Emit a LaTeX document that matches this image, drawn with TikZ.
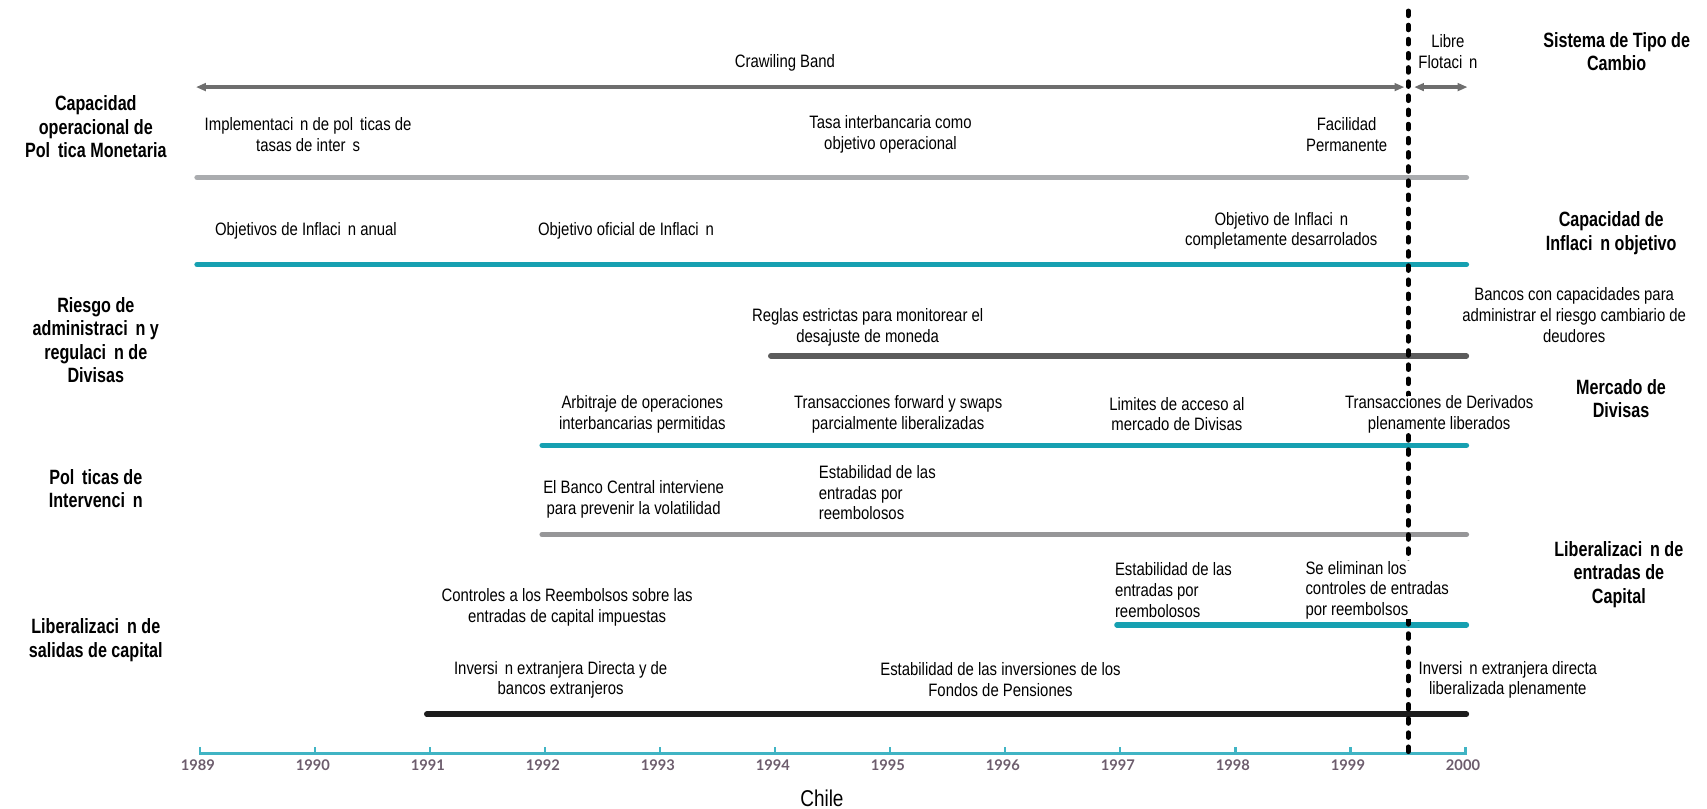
\documentclass[tikz,border=0pt]{standalone}
\usepackage{fontspec}
\setmainfont{Liberation Sans}
\newfontfamily\nar{Liberation Sans}[FakeStretch=0.83]
\newfontfamily\narb{Liberation Sans}[FakeStretch=0.78]
\newfontfamily\yrfont{Lato}
\usetikzlibrary{arrows.meta}
\definecolor{tealband}{RGB}{22,160,177}
\definecolor{axisteal}{RGB}{64,180,196}
\definecolor{lightband}{RGB}{170,172,175}
\definecolor{midband}{RGB}{150,150,152}
\definecolor{darkband}{RGB}{92,92,92}
\definecolor{blackband}{RGB}{28,28,28}
\definecolor{arrowgray}{RGB}{110,110,110}
\definecolor{yeargray}{RGB}{108,92,108}
\newcommand{\gp}{\hspace{0.38em}}
\begin{document}
\begin{tikzpicture}[x=1pt,y=-1pt,
  txt/.style={font=\nar\fontsize{16.5}{19}\selectfont, align=center, inner sep=0pt},
  txtl/.style={txt, align=left, anchor=west},
  lbl/.style={font=\narb\bfseries\fontsize{19}{21.5}\selectfont, align=center, inner sep=0pt},
  band/.style={line width=5pt, line cap=round},
  crawl/.style={line width=3pt, arrowgray, {Triangle[length=9pt,width=7pt]}-{Triangle[length=9pt,width=7pt]}},
  axisline/.style={line width=2.5pt, axisteal},
  yearlbl/.style={font=\yrfont\bfseries\fontsize{13.5}{15}\selectfont, text=yeargray, inner sep=0pt},
  dotline/.style={line width=4.3pt, line cap=round, dash pattern=on 4.5pt off 8.5pt},
  masked/.style={fill=white}]
\useasboundingbox (0,0) rectangle (1568,743);

% ---- lines and bands ----
\coordinate (cbl) at (180,80);
\coordinate (cbr) at (1290,80);
\coordinate (lfl) at (1299,80);
\coordinate (lfr) at (1348,80);
\draw[crawl] (cbl) -- (cbr);
\draw[crawl] (lfl) -- (lfr);
\draw[band, lightband] (181,163) -- (1347,163);
\draw[band, tealband] (181,243) -- (1347,243);
\draw[band, darkband] (708,327) -- (1347,327);
\draw[band, tealband] (498,409) -- (1347,409);
\draw[band, midband] (498,491) -- (1347,491);
\draw[band, tealband] (1026,574) -- (1347,574);
\draw[band, blackband] (392,656) -- (1347,656);

% axis
\draw[axisline] (183.7,686) -- (183.7,692) -- (1345.9,692) -- (1345.9,686);
\foreach \i [count=\k from 0] in {1989,...,2000} {
  \pgfmathsetmacro{\xx}{183.7+105.65*\k}
  \draw[axisline] (\xx,686.5) -- (\xx,692);
  \node[yearlbl] (y\i) at (\xx-2,703) {\i};
}

% dotted divider
\coordinate (dtop) at (1293.5,10);
\coordinate (dbot) at (1293.5,696);
\draw[dotline] (dtop) -- (dbot);

% ---- texts ----
% left labels
\node[lbl] (l1) at (88,116.5) {Capacidad\\operacional de\\Pol\gp tica Monetaria};
\node[lbl] (l2) at (88,312.5) {Riesgo de\\administraci\gp n y\\regulaci\gp n de\\Divisas};
\node[lbl] (l3) at (88,449) {Pol\gp ticas de\\Intervenci\gp n};
\node[lbl] (l4) at (88,588) {Liberalizaci\gp n de\\salidas de capital};

% right labels
\node[lbl] (r1) at (1485,47.5) {Sistema de Tipo de\\Cambio};
\node[lbl] (r2) at (1480,214) {Capacidad de\\Inflaci\gp n objetivo};
\node[lbl] (r3) at (1489,366) {Mercado de\\Divisas};
\node[lbl] (r4) at (1487,527.5) {Liberalizaci\gp n de\\entradas de\\Capital};

% exchange regime
\node[txt] (cb) at (721,58) {Crawiling Band};
\node[txt] (lf) at (1330,47.5) {Libre\\Flotaci\gp n};

% row 1
\node[txt] (t11) at (283,123.5) {Implementaci\gp n de pol\gp ticas de\\tasas de inter\gp s};
\node[txt] (t12) at (818,123.5) {Tasa interbancaria como\\objetivo operacional};
\node[txt] (t13) at (1237,123.5) {Facilidad\\Permanente};

% row 2
\node[txt] (t21) at (281,212) {Objetivos de Inflaci\gp n anual};
\node[txt] (t22) at (575,212) {Objetivo oficial de Inflaci\gp n};
\node[txt] (t23) at (1177,212) {Objetivo de Inflaci\gp n\\completamente desarrolados};

% row 3
\node[txt] (t31) at (797,301) {Reglas estrictas para monitorear el\\desajuste de moneda};
\node[txt] (t32) at (1446,289.5) {Bancos con capacidades para\\administrar el riesgo cambiario de\\deudores};

% row 4
\node[txt] (t41) at (590,380.5) {Arbitraje de operaciones\\interbancarias permitidas};
\node[txt] (t42) at (825,380.5) {Transacciones forward y swaps\\parcialmente liberalizadas};
\node[txt] (t43) at (1081,380.5) {Limites de acceso al\\mercado de Divisas};
\node[txt, masked] (t44) at (1322,380.5) {Transacciones de Derivados\\plenamente liberados};

% row 5
\node[txt] (t51) at (582,458.5) {El Banco Central interviene\\para prevenir la volatilidad};
\node[txtl] (t52) at (752,452.5) {Estabilidad de las\\entradas por\\reembolosos};

% row 6
\node[txt] (t61) at (521,558) {Controles a los Reembolsos sobre las\\entradas de capital impuestas};
\node[txtl] (t62) at (1024,542) {Estabilidad de las\\entradas por\\reembolosos};
\node[txtl, masked] (t63) at (1199,542) {Se eliminan los\\controles de entradas\\por reembolsos};

% row 7
\node[txt] (t71) at (515,624.5) {Inversi\gp n extranjera Directa y de\\bancos extranjeros};
\node[txt] (t72) at (919,624.5) {Estabilidad de las inversiones de los\\Fondos de Pensiones};
\node[txt] (t73) at (1385,624.5) {Inversi\gp n extranjera directa\\liberalizada plenamente};

\node[txt, font=\nar\fontsize{21}{24}\selectfont] (chile) at (755,733) {Chile};
\end{tikzpicture}
\end{document}
